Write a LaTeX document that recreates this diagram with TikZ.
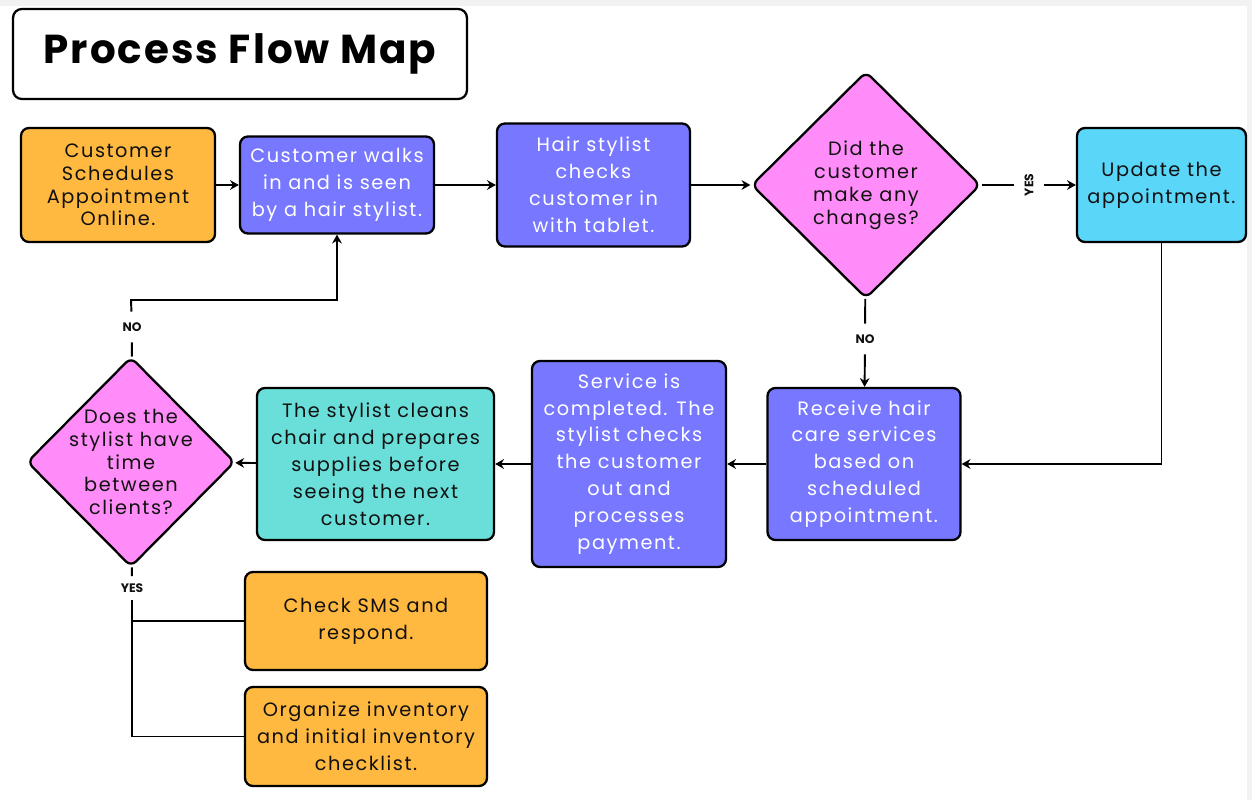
\documentclass[tikz,border=0pt]{standalone}
\usepackage{fontspec}
\setmainfont{Poppins}
\newfontfamily\boxfont[LetterSpace=8]{Poppins}
\newfontfamily\headfont[LetterSpace=5]{Poppins}
\usetikzlibrary{shapes.geometric,arrows.meta}

\definecolor{flowOrange}{HTML}{FFB840}
\definecolor{flowPurple}{HTML}{7777FF}
\definecolor{flowPink}{HTML}{FF8CF8}
\definecolor{flowCyan}{HTML}{5AD6F8}
\definecolor{flowTeal}{HTML}{6ADFDA}
\definecolor{flowInk}{HTML}{111111}

\tikzset{
  box/.style={draw=black, line width=1.3pt, rounded corners=4.5pt, inner sep=0pt,
    align=center, text=flowInk, font=\boxfont\fontsize{11}{15.3}\selectfont},
  decision/.style={diamond, draw=black, line width=1.3pt, rounded corners=4pt, inner sep=-12pt,
    align=center, fill=flowPink, text=flowInk, font=\boxfont\fontsize{11}{13}\selectfont},
  answer/.style={font=\bfseries\fontsize{7}{8}\selectfont, inner sep=6pt, text=flowInk},
  link/.style={line width=1.1pt, draw=black},
  flow/.style={link, -{Stealth[length=5pt,width=5.5pt]}}
}

\begin{document}
\begin{tikzpicture}[x=0.02cm,y=-0.02cm]
  \useasboundingbox (0,0) rectangle (1252,800);
  % Hintergrund
  \fill[gray!10] (0,0) rectangle (1252,800);
  \fill[white] (0,6) rectangle (1247,800);
  % Titel
  \node[draw=black, line width=1.3pt, rounded corners=5pt, minimum width=9.08cm, minimum height=1.8cm,
    font=\headfont\bfseries\fontsize{23}{26}\selectfont, text=black] (title) at (240,54) {Process Flow Map};
  % Erste Reihe
  \node[box, fill=flowOrange, minimum width=3.88cm, minimum height=2.28cm,
    font=\boxfont\fontsize{11}{13}\selectfont] (book) at (118,185)
    {Customer\\Schedules\\Appointment\\Online.};
  \node[box, fill=flowPurple, text=white, minimum width=3.88cm, minimum height=1.94cm] (walk) at (337,185)
    {Customer walks\\in and is seen\\by a hair stylist.};
  \node[box, fill=flowPurple, text=white, minimum width=3.86cm, minimum height=2.46cm] (checkin) at (593.5,185)
    {Hair stylist\\checks\\customer in\\with tablet.};
  \node[decision, minimum width=4.58cm, minimum height=4.54cm] (changes) at (866,185)
    {Did the\\customer\\make any\\changes?};
  \node[box, fill=flowCyan, minimum width=3.38cm, minimum height=2.28cm] (update) at (1161.5,185)
    {Update the\\appointment.};
  % Zweite Reihe
  \node[box, fill=flowPurple, text=white, minimum width=3.86cm, minimum height=3.04cm] (service) at (864,464)
    {Receive hair\\care services\\based on\\scheduled\\appointment.};
  \node[box, fill=flowPurple, text=white, minimum width=3.88cm, minimum height=4.12cm] (checkout) at (629,464)
    {Service is\\completed. The\\stylist checks\\the customer\\out and\\processes\\payment.};
  \node[box, fill=flowTeal, minimum width=4.74cm, minimum height=3.04cm] (clean) at (375.5,464)
    {The stylist cleans\\chair and prepares\\supplies before\\seeing the next\\customer.};
  \node[decision, minimum width=4.16cm, minimum height=4.2cm] (spare) at (131,462)
    {Does the\\stylist have\\time\\between\\clients?};
  % Freie Zeit
  \node[box, fill=flowOrange, minimum width=4.84cm, minimum height=1.96cm] (sms) at (366,621)
    {Check SMS and\\respond.};
  \node[box, fill=flowOrange, minimum width=4.84cm, minimum height=1.98cm] (stock) at (366,736.5)
    {Organize inventory\\and initial inventory\\checklist.};
  % Antworten
  \node[answer, rotate=90] (yesA) at (1029,185) {YES};
  \node[answer] (noA) at (865,339) {NO};
  \node[answer] (noB) at (132,327) {NO};
  \node[answer, inner sep=4pt] (yesB) at (132,588) {YES};
  \coordinate (turn) at (131,300);
  % Pfeile
  \draw[flow] (book) -- (walk);
  \draw[flow] (walk) -- (checkin);
  \draw[flow] (checkin) -- (changes);
  \draw[link] (changes) -- (yesA);
  \draw[flow] (yesA) -- (update);
  \draw[flow] (update) |- (service);
  \draw[link] (changes) -- (noA);
  \draw[flow] (noA) -- (service);
  \draw[flow] (service) -- (checkout);
  \draw[flow] (checkout) -- (clean);
  \draw[flow] (clean) -- (spare);
  \draw[link] (spare) -- (noB);
  \draw[flow] (noB) -- (turn) -| (walk);
  \draw[link] (spare) -- (yesB);
  \draw[link] (yesB) |- (sms);
  \draw[link] (yesB) |- (stock);
\end{tikzpicture}
\end{document}
